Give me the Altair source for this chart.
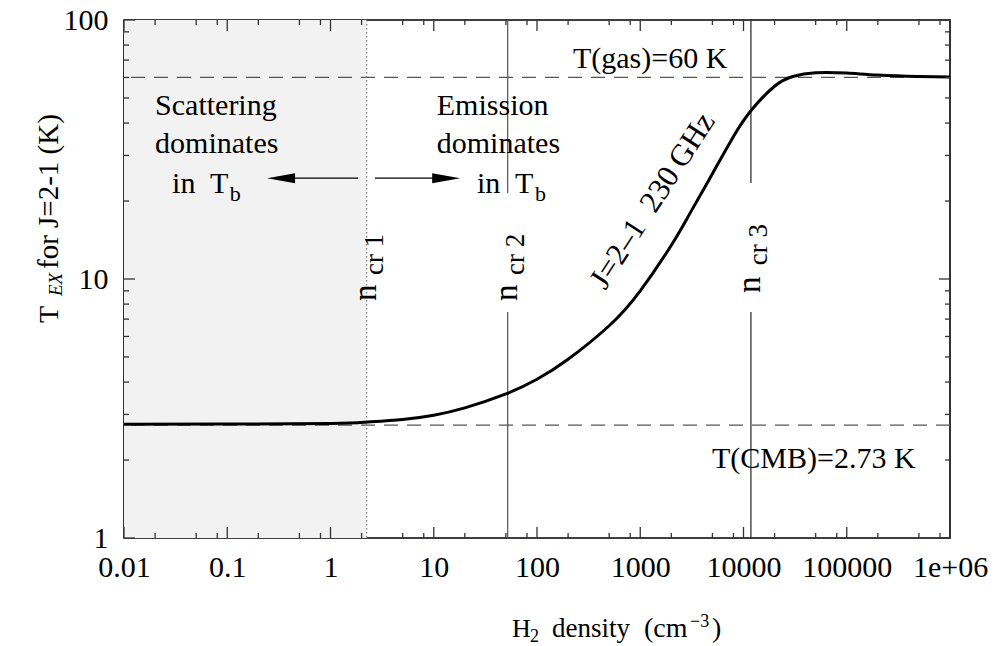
import json
import altair as alt
import pandas as pd

# Excitation temperature of CO J=2-1 versus H2 density
density = [0.01, 0.1, 1, 2.2, 5, 10, 20, 50, 100, 200, 500, 1000, 2000, 3000,
           5000, 8000, 12000, 20000, 30000, 50000, 100000, 200000, 500000, 1000000]
t_ex = [2.75, 2.755, 2.77, 2.80, 2.87, 2.98, 3.18, 3.6, 4.1, 4.9, 6.6, 9.0, 13.5,
        17.8, 25.5, 35.5, 45.0, 55.5, 60.5, 62.6, 62.4, 61.3, 60.5, 60.2]

T_LEVELS = [60.0, 2.73]                 # T(gas), T(CMB)
N_CRIT = [2.24, 52.0, 11800.0]          # critical densities
N_CRIT_SUB = ["cr 1", "cr 2", "cr 3"]

X_TICKS = [0.01, 0.1, 1, 10, 100, 1000, 10000, 100000, 1000000]
X_TICK_LABELS = ["0.01", "0.1", "1", "10", "100", "1000", "10000", "100000", "1e+06"]
Y_TICKS = [1, 10, 100]
Y_TICK_LABELS = ["1", "10", "100"]
X_MINOR_MULT = [2, 5, 8]
Y_MINOR_MULT = [2, 3, 4, 5, 6, 7, 8, 9]

W, H = 826, 518
FONT = "Liberation Serif, Times New Roman, serif"
MAJOR_LEN, MINOR_LEN = 11, 5

xs = alt.Scale(type="log", domain=[X_TICKS[0], X_TICKS[-1]], nice=False)
ys = alt.Scale(type="log", domain=[Y_TICKS[0], Y_TICKS[-1]], nice=False)


def label_expr(vals, labels):
    return f"{json.dumps(labels)}[indexof({json.dumps(vals)}, datum.value)]"


x_axis = alt.Axis(values=X_TICKS, labelExpr=label_expr(X_TICKS, X_TICK_LABELS),
                  ticks=False, domain=False, grid=False, title=None,
                  labelFont=FONT, labelFontSize=30, labelColor="black",
                  labelPadding=14, labelOverlap=False, labelFlush=False, labelBound=False)
y_axis = alt.Axis(values=Y_TICKS, labelExpr=label_expr(Y_TICKS, Y_TICK_LABELS),
                  ticks=False, domain=False, grid=False, title=None,
                  labelFont=FONT, labelFontSize=30, labelColor="black",
                  labelPadding=16, labelOverlap=False, labelFlush=False, labelBound=False)


def X(field, **kw):
    return alt.X(field, type="quantitative", scale=xs, axis=x_axis, **kw)


def Y(field, **kw):
    return alt.Y(field, type="quantitative", scale=ys, axis=y_axis, **kw)


curve_df = pd.DataFrame({"n": density, "t": t_ex})

# shaded scattering-dominated region
shade = alt.Chart(pd.DataFrame({"x0": [X_TICKS[0]], "x1": [N_CRIT[0]],
                                "y0": [Y_TICKS[0]], "y1": [Y_TICKS[-1]]})).mark_rect(
    color="#f2f2f2").encode(x=X("x0"), x2="x1", y=Y("y0"), y2="y1")

levels = alt.Chart(pd.DataFrame({"t": T_LEVELS})).mark_rule(
    color="#555555", strokeWidth=1.2, strokeDash=[14, 9]).encode(y=Y("t"))

ncr1_line = alt.Chart(pd.DataFrame({"n": N_CRIT[:1]})).mark_rule(
    color="#888888", strokeWidth=1.3, strokeDash=[1.5, 2.5]).encode(x=X("n"))

# ncr2 / ncr3 lines, broken where their labels sit
seg_df = pd.DataFrame({
    "n": [N_CRIT[1], N_CRIT[1], N_CRIT[2], N_CRIT[2]],
    "t0": [100, 7.46, 100, 7.46],
    "t1": [21.5, 1, 23.5, 1],
    "c": ["#555555", "#555555", "#222222", "#222222"],
})
ncr_segs = alt.Chart(seg_df).mark_rule(strokeWidth=1.2).encode(
    x=X("n"), y=Y("t0"), y2="t1", color=alt.Color("c:N", scale=None))

curve = alt.Chart(curve_df).mark_line(
    color="black", strokeWidth=3, interpolate="natural").encode(x=X("n"), y=Y("t"))

# inward ticks on all four sides
x_major = X_TICKS
x_minor = [m * v for v in X_TICKS[:-1] for m in X_MINOR_MULT]
y_major = Y_TICKS
y_minor = [m * v for v in Y_TICKS[:-1] for m in Y_MINOR_MULT]


def xticks(vals, length):
    df = pd.DataFrame({"v": vals})
    base = alt.Chart(df).mark_rule(color="#333333", strokeWidth=1.3)
    return [base.encode(x=X("v"), y=alt.value(H), y2=alt.value(H - length)),
            base.encode(x=X("v"), y=alt.value(0), y2=alt.value(length))]


def yticks(vals, length):
    df = pd.DataFrame({"v": vals})
    base = alt.Chart(df).mark_rule(color="#333333", strokeWidth=1.3)
    return [base.encode(y=Y("v"), x=alt.value(0), x2=alt.value(length)),
            base.encode(y=Y("v"), x=alt.value(W), x2=alt.value(W - length))]


tick_layers = (xticks(x_major, MAJOR_LEN) + xticks(x_minor, MINOR_LEN)
               + yticks(y_major, MAJOR_LEN) + yticks(y_minor, MINOR_LEN))

# horizontal annotations (left aligned)
ann_df = pd.DataFrame([
    ("Scattering", 0.0200, 43.0, 30),
    ("dominates", 0.0200, 30.7, 30),
    ("in", 0.0292, 21.5, 30),
    ("T", 0.068, 21.5, 30),
    ("b", 0.106, 20.0, 22),
    ("Emission", 10.7, 43.0, 30),
    ("dominates", 10.7, 30.7, 30),
    ("in", 26.2, 21.5, 30),
    ("T", 61.2, 21.5, 30),
    ("b", 95.7, 20.0, 22),
    ("T(gas)=60 K", 223, 65.3, 30),
    ("T(CMB)=2.73 K", 4955, 1.865, 30),
], columns=["text", "x", "y", "fs"])
ann = alt.Chart(ann_df).mark_text(
    align="left", baseline="alphabetic", font=FONT, color="black").encode(
    x=X("x"), y=Y("y"), text="text:N", size=alt.Size("fs:Q", scale=None))

# critical-density labels, read bottom to top beside each line
ncr_lab_df = pd.DataFrame({"n": N_CRIT, "sub": N_CRIT_SUB,
                           "yn": [8.22, 8.22, 8.83], "ys": [10.36, 10.36, 11.3]})
ncr_n = alt.Chart(ncr_lab_df).mark_text(
    align="left", baseline="alphabetic", font=FONT, fontSize=33, angle=270,
    dy=9, color="black").encode(x=X("n"), y=Y("yn"), text=alt.value("n"))
ncr_sub = alt.Chart(ncr_lab_df).mark_text(
    align="left", baseline="alphabetic", font=FONT, fontSize=27, angle=270,
    dy=16, color="black").encode(x=X("n"), y=Y("ys"), text="sub:N")

line_lab = alt.Chart(pd.DataFrame({"x": [1330], "y": [20.0],
                                   "text": ["J=2\u20131\u00a0\u00a0230\u2009GHz"]})).mark_text(
    align="center", baseline="middle", font=FONT, fontSize=31, angle=303,
    color="black").encode(x=X("x"), y=Y("y"), text="text:N")

# arrows
arrow_y = 24.5
arrow_lines = alt.Chart(pd.DataFrame({"x0": [1.85, 2.70], "x1": [0.30, 15.0],
                                      "y": [arrow_y, arrow_y]})).mark_rule(
    color="black", strokeWidth=1.3).encode(x=X("x0"), x2="x1", y=Y("y"))
head_left = alt.Chart(pd.DataFrame({"x": [0.332], "y": [arrow_y]})).mark_point(
    shape="M-1,0L1,-0.36L1,0.36Z", size=784, filled=True, color="black", opacity=1).encode(
    x=X("x"), y=Y("y"))
head_right = alt.Chart(pd.DataFrame({"x": [13.2], "y": [arrow_y]})).mark_point(
    shape="M1,0L-1,-0.36L-1,0.36Z", size=784, filled=True, color="black", opacity=1).encode(
    x=X("x"), y=Y("y"))

# axis titles assembled from pieces (subscripts / superscripts)
ytitle_df = pd.DataFrame([
    ("T", -66, 303, 28, "normal"),
    ("EX", -62, 276, 19, "italic"),
    ("for J=2-1 (K)", -66, 249, 29, "normal"),
], columns=["text", "px", "py", "fs", "st"])
ytitle_layers = [
    alt.Chart(ytitle_df.iloc[[i]]).mark_text(
        align="left", baseline="alphabetic", font=FONT, angle=270, color="black",
        fontStyle=row.st, fontSize=int(row.fs)).encode(
        x=alt.value(int(row.px)), y=alt.value(int(row.py)), text="text:N")
    for i, row in enumerate(ytitle_df.itertuples())
]
xtitle_df = pd.DataFrame([
    ("H", 388, 617, 26),
    ("2", 406, 622, 18),
    ("density", 428, 617, 27),
    ("(cm", 520, 617, 28),
    ("\u22123", 566, 607, 18),
    (")", 588, 617, 28),
], columns=["text", "px", "py", "fs"])
xtitle = alt.Chart(xtitle_df).mark_text(
    align="left", baseline="alphabetic", font=FONT, color="black").encode(
    x=alt.X("px:Q", scale=None, axis=None), y=alt.Y("py:Q", scale=None, axis=None),
    text="text:N", size=alt.Size("fs:Q", scale=None))

chart = alt.layer(
    shade, levels, ncr1_line, ncr_segs, curve, *tick_layers,
    ann, ncr_n, ncr_sub, line_lab, arrow_lines, head_left, head_right,
    *ytitle_layers, xtitle,
).resolve_scale(x="shared", y="shared").properties(
    width=W, height=H,
    autosize=alt.AutoSizeParams(type="none"),
    padding={"left": 124, "top": 20, "right": 46, "bottom": 108},
    background="white",
).configure_view(stroke="black", strokeWidth=1.6)

chart.save("out.html", embed_options={"renderer": "svg", "actions": False})
